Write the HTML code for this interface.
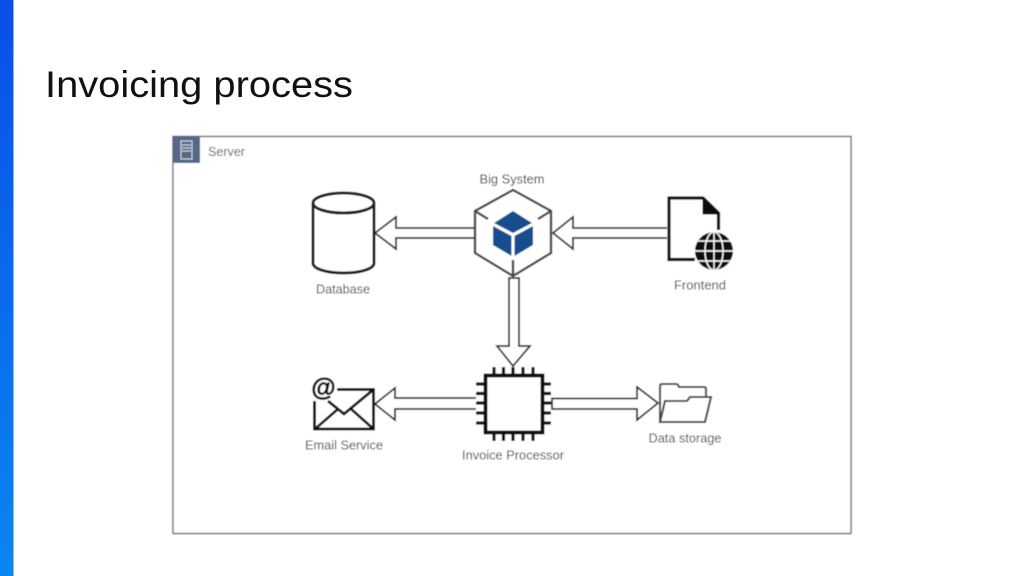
<!DOCTYPE html>
<html>
<head>
<meta charset="utf-8">
<style>
html,body{margin:0;padding:0;background:#fff;width:1024px;height:576px;overflow:hidden}
svg{display:block}
text{font-family:"Liberation Sans",sans-serif}
</style>
</head>
<body>
<svg width="1024" height="576" viewBox="0 0 1024 576" xmlns="http://www.w3.org/2000/svg">
<defs>
<linearGradient id="bar" x1="0" y1="0" x2="0" y2="1">
<stop offset="0" stop-color="#0a4fe6"/>
<stop offset="1" stop-color="#0a86f2"/>
</linearGradient>
<clipPath id="g"><circle cx="714" cy="251" r="19"/></clipPath>
<filter id="soft" x="-5%" y="-5%" width="110%" height="110%"><feGaussianBlur stdDeviation="0.4"/></filter>
</defs>
<rect width="1024" height="576" fill="#fff"/>
<rect x="0" y="0" width="13.5" height="576" fill="url(#bar)"/>
<text x="45" y="97" font-size="37.500" fill="#111" textLength="308" lengthAdjust="spacingAndGlyphs">Invoicing process</text>

<g filter="url(#soft)">
<rect x="173" y="136.500" width="678" height="397" fill="#fff" stroke="#63656a" stroke-width="1.300"/>
<rect x="173" y="136" width="27" height="27" fill="#56688a"/>
<rect x="181" y="141" width="11" height="18" fill="none" stroke="#d4dae5" stroke-width="1"/>
<path d="M182 145h9M182 148h9M182 151h9" stroke="#d4dae5" stroke-width="1"/>
<text x="208" y="156" font-size="13" fill="#5a5c60" textLength="37" lengthAdjust="spacingAndGlyphs">Server</text>

<!-- Database -->
<path d="M313 203V263C313 269 327 273 343.500 273S374 269 374 263V203" fill="#fff" stroke="#1a1d1f" stroke-width="3"/>
<ellipse cx="343.500" cy="203" rx="30.500" ry="10" fill="#fff" stroke="#1a1d1f" stroke-width="3"/>
<text x="343" y="293.500" font-size="13" fill="#404040" text-anchor="middle" textLength="54" lengthAdjust="spacingAndGlyphs">Database</text>

<!-- Arrow to database -->
<path d="M474 228H396V217L375 233L396 249V238H474" fill="#fff" stroke="#2b2b2b" stroke-width="1.800"/>

<!-- Big System -->
<path d="M513 190L551 211V253L513 276L475 253V211Z" fill="#fff" stroke="#424549" stroke-width="2.400"/>
<path d="M475 211L488 219M551 211L538 219M513 276V260" stroke="#424549" stroke-width="2.400"/>
<path d="M513 211L532 223L513 233L494 223Z" fill="#154d8c"/>
<path d="M493 226L511.500 236V256L493 245Z" fill="#154d8c"/>
<path d="M533 226L514.500 236V256L533 245Z" fill="#154d8c"/>
<text x="512" y="183.500" font-size="13" fill="#333" text-anchor="middle" textLength="65" lengthAdjust="spacingAndGlyphs">Big System</text>

<!-- Arrow from frontend -->
<path d="M667 228H573V217L553 233L573 249V238H667" fill="#fff" stroke="#2b2b2b" stroke-width="1.800"/>

<!-- Frontend -->
<path d="M695 259.500H669V198H703L718.500 213V230" fill="#fff" stroke="#0c0c0c" stroke-width="3.200"/>
<path d="M703 198L718.500 214H703Z" fill="#0c0c0c" stroke="#0c0c0c" stroke-width="1"/>
<circle cx="714" cy="251" r="19" fill="#0c0c0c"/>
<g clip-path="url(#g)" fill="none" stroke="#fff" stroke-width="1.400">
<path d="M714 232V270M695 251H733M697 241H731M697 261H731"/>
<ellipse cx="714" cy="251" rx="9" ry="19"/>
</g>
<text x="700" y="289.500" font-size="13" fill="#404040" text-anchor="middle" textLength="52" lengthAdjust="spacingAndGlyphs">Frontend</text>

<!-- Down arrow -->
<path d="M509 278H519V346H530L513 366L497 346H509Z" fill="#fff" stroke="#2b2b2b" stroke-width="1.800"/>

<!-- Chip -->
<rect x="485.500" y="375.500" width="57" height="57" fill="#fff" stroke="#0c0c0c" stroke-width="3.800"/>
<path d="M494 367V375M503.500 367V375M513 367V375M523 367V375M533 367V375M494 432V441M503.500 432V441M513 432V441M523 432V441M533 432V441M476 384H485M476 393.500H485M476 403H485M476 413H485M476 423H485M542 384H551M542 393.500H551M542 403H551M542 413H551M542 423H551" stroke="#0c0c0c" stroke-width="3.200"/>
<text x="513" y="459.500" font-size="13" fill="#404040" text-anchor="middle" textLength="102" lengthAdjust="spacingAndGlyphs">Invoice Processor</text>

<!-- Arrow to email -->
<path d="M476 398H395V388L375 404L395 420V409H476" fill="#fff" stroke="#2b2b2b" stroke-width="1.800"/>

<!-- Email -->
<path d="M337 389.500H373.500V429H314.500V401" fill="none" stroke="#0c0c0c" stroke-width="2.800"/>
<path d="M373.500 389.500L344 414L328 401M315 429L338 409M373.500 429L350 408" fill="none" stroke="#0c0c0c" stroke-width="2.800"/>
<text x="323.500" y="396" font-size="25" font-weight="bold" fill="#0c0c0c" stroke="#0c0c0c" stroke-width="0.700" text-anchor="middle">@</text>
<text x="344" y="449.500" font-size="13" fill="#404040" text-anchor="middle" textLength="78" lengthAdjust="spacingAndGlyphs">Email Service</text>

<!-- Arrow to storage -->
<path d="M552 398.500H637V387L658 403L637 420V409H552Z" fill="#fff" stroke="#2b2b2b" stroke-width="1.800"/>

<!-- Folder -->
<path d="M660 422V386Q660 384 662 384H676Q678 384 679 387H704Q706 387 706 389V397" fill="none" stroke="#424549" stroke-width="2.100"/>
<path d="M660 422H705L711 397H690L687 401H665Z" fill="#fff" stroke="#424549" stroke-width="2.100"/>
<text x="685" y="442.500" font-size="13" fill="#404040" text-anchor="middle" textLength="73" lengthAdjust="spacingAndGlyphs">Data storage</text>
</g>
</svg>
</body>
</html>
